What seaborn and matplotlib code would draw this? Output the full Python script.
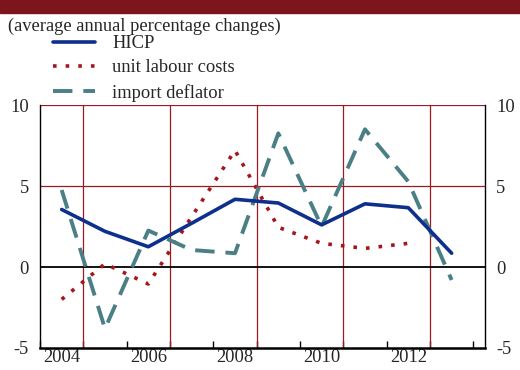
import numpy as np
import pandas as pd
import matplotlib
matplotlib.use("Agg")
import matplotlib.pyplot as plt
import seaborn as sns

# ==========================================
# Data
# ==========================================
years = [2004, 2005, 2006, 2007, 2008, 2009, 2010, 2011, 2012, 2013]
hicp = [3.55, 2.2, 1.25, 2.7, 4.18, 3.95, 2.6, 3.9, 3.66, 0.85]
ulc_years = [2004, 2005, 2006, 2007, 2008, 2009, 2010, 2011, 2012]
unit_labour_costs = [-2.0, 0.2, -1.05, 3.1, 7.2, 2.45, 1.46, 1.15, 1.46]
import_deflator = [4.75, -3.8, 2.25, 1.05, 0.85, 8.25, 2.5, 8.5, 5.27, -0.8]

label_years = [2004, 2006, 2008, 2010, 2012]
y_ticks = [-5, 0, 5, 10]
subtitle = "(average annual percentage changes)"

# ==========================================
# Style
# ==========================================
sns.set_style("white")
plt.rcParams["font.family"] = ["Liberation Serif", "DejaVu Serif"]

BANNER = "#7d151d"
GRID_RED = "#9b1b22"
BLUE = "#0f2f8c"
RED = "#a3171b"
TEAL = "#4b7f86"
FS = 13.3

fig = plt.figure(figsize=(5.2, 3.7), dpi=100)
ax = fig.add_axes([40 / 520, 1 - 348 / 370, 445 / 520, 243 / 370])

df_main = pd.DataFrame({"year": years, "HICP": hicp, "import deflator": import_deflator})
df_ulc = pd.DataFrame({"year": ulc_years, "unit labour costs": unit_labour_costs})

sns.lineplot(data=df_main, x="year", y="HICP", ax=ax, color=BLUE, linewidth=2.6,
             label="HICP", zorder=4)
sns.lineplot(data=df_ulc, x="year", y="unit labour costs", ax=ax, color=RED,
             linewidth=2.6, linestyle=(0, (1, 2.5)), label="unit labour costs", zorder=3)
sns.lineplot(data=df_main, x="year", y="import deflator", ax=ax, color=TEAL,
             linewidth=2.8, linestyle=(0, (5, 2.8)), label="import deflator", zorder=3)

ax.set_xlim(2003.5, 2013.77)
ax.set_ylim(-5, 10)
ax.set_xlabel("")
ax.set_ylabel("")

# grid
for v in [5, 10]:
    ax.axhline(v, color=GRID_RED, linewidth=0.9, zorder=1)
ax.axhline(0, color="black", linewidth=1.3, zorder=2)
for gx in [2004.5, 2006.5, 2008.5, 2010.5, 2012.5]:
    ax.axvline(gx, color=GRID_RED, linewidth=0.9, zorder=1)

# x ticks: marks at year boundaries, labels at year middles
ax.set_xticks(label_years)
ax.set_xticklabels([str(y) for y in label_years], fontsize=FS)
ax.set_xticks(np.arange(2003.5, 2014, 1.0), minor=True)
ax.tick_params(axis="x", which="major", length=0, pad=1)
ax.tick_params(axis="x", which="minor", direction="in", length=5, width=1, color="black",
               bottom=True)

ax.set_yticks(y_ticks)
ax.set_yticklabels([str(v) for v in y_ticks], fontsize=FS)
ax.tick_params(axis="y", length=0, pad=8, labelleft=True, labelright=True)

for side in ["left", "right"]:
    ax.spines[side].set_color("black")
    ax.spines[side].set_linewidth(1.0)
ax.spines["bottom"].set_color("black")
ax.spines["bottom"].set_linewidth(1.8)
ax.spines["top"].set_visible(False)

leg = ax.legend(loc="upper left", bbox_to_anchor=(53 / 520, 1 - 35 / 370),
                bbox_transform=fig.transFigure, frameon=False, fontsize=FS,
                handlelength=2.25, handletextpad=0.95, labelspacing=0.4, borderpad=0,
                borderaxespad=0)

# header banner and subtitle
fig.patches.append(plt.Rectangle((0, 1 - 13 / 370), 1, 13 / 370, transform=fig.transFigure,
                                 color=BANNER, zorder=0))
fig.text(8 / 520, 1 - 26 / 370, subtitle, fontsize=FS, va="center", ha="left")

fig.savefig("out.png", dpi=100)
plt.close(fig)
